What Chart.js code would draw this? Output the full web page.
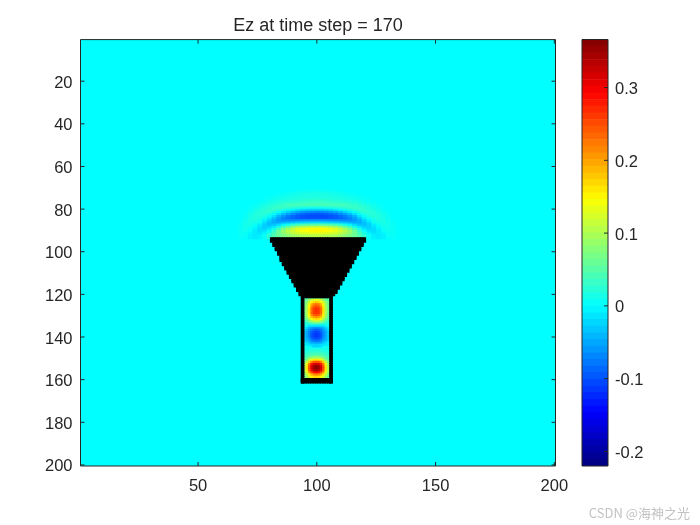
<!DOCTYPE html>
<html lang="en">
<head>
<meta charset="UTF-8">
<title>Ez at time step = 170</title>
<style>
    html, body { margin: 0; background: #fff; }
    #page { position: relative; width: 700px; height: 525px; overflow: hidden; }
    canvas { position: absolute; left: 0; top: 0; }
    #mark { position: absolute; right: 10px; top: 503px; font: 13px "Noto Sans CJK SC", sans-serif; color: #c2c2c2; }
</style>
</head>
<body>
<div id="page">
    <canvas id="field" width="700" height="525"></canvas>
    <canvas id="bar" width="700" height="525"></canvas>
    <div id="mark">CSDN @海神之光</div>
</div>

<script src="https://cdn.jsdelivr.net/npm/chart.js@4/dist/chart.umd.min.js"></script>
<script>
const titleText = 'Ez at time step = 170';
const xTicks = [50, 100, 150, 200];
const yTicks = [20, 40, 60, 80, 100, 120, 140, 160, 180, 200];
const barTicks = [-0.2, -0.1, 0, 0.1, 0.2, 0.3];
const valueMin = -0.22;
const valueMax = 0.366;

// wave above the horn
const waveCols = [68,70,72,74,76,78,80,82,84,86,88,90,92,94,96,98,100,102,104,106,108,110,112,114,116,118,120,122,124,126,128,130,132];
const waveRows = [72,73,74,75,76,77,78,79,80,81,82,83,84,85,86,87,88,89,90,91,92,93];
const waveValues = [
    [0,0,0,0,0,0,0,0,0,0,0,0,.002,.003,.004,.005,.005,.005,.004,.003,.002,0,0,0,0,0,0,0,0,0,0,0,0],
    [0,0,0,0,0,0,0,0,0,.002,.004,.006,.008,.01,.011,.012,.012,.012,.011,.01,.008,.006,.004,.002,0,0,0,0,0,0,0,0,0],
    [0,0,0,0,0,0,0,.002,.004,.006,.009,.011,.013,.014,.015,.015,.015,.015,.015,.014,.013,.011,.009,.006,.004,.002,0,0,0,0,0,0,0],
    [0,0,0,0,0,.001,.003,.005,.007,.009,.011,.013,.014,.015,.015,.016,.016,.016,.015,.015,.014,.013,.011,.009,.007,.005,.003,.001,0,0,0,0,0],
    [0,0,0,0,0,.003,.005,.008,.01,.012,.015,.017,.019,.02,.021,.022,.022,.022,.021,.02,.019,.017,.015,.012,.01,.008,.005,.003,0,0,0,0,0],
    [0,0,0,0,.002,.005,.008,.012,.015,.018,.02,.022,.024,.026,.028,.03,.03,.03,.028,.026,.024,.022,.02,.018,.015,.012,.008,.005,.002,0,0,0,0],
    [0,0,0,.002,.005,.009,.014,.018,.022,.026,.03,.032,.034,.035,.036,.037,.037,.037,.036,.035,.034,.032,.03,.026,.022,.018,.014,.009,.005,.002,0,0,0],
    [0,0,.001,.004,.008,.014,.02,.025,.03,.034,.038,.04,.04,.04,.04,.04,.04,.04,.04,.04,.04,.04,.038,.034,.03,.025,.02,.014,.008,.004,.001,0,0],
    [0,0,.003,.007,.012,.018,.024,.029,.031,.03,.027,.022,.018,.014,.012,.01,.01,.01,.012,.014,.018,.022,.027,.03,.031,.029,.024,.018,.012,.007,.003,0,0],
    [0,0,.004,.01,.016,.022,.027,.028,.024,.016,.006,-.004,-.012,-.02,-.024,-.027,-.028,-.027,-.024,-.02,-.012,-.004,.006,.016,.024,.028,.027,.022,.016,.01,.004,0,0],
    [0,.002,.007,.014,.02,.024,.024,.018,.004,-.012,-.026,-.04,-.052,-.06,-.066,-.07,-.072,-.07,-.066,-.06,-.052,-.04,-.026,-.012,.004,.018,.024,.024,.02,.014,.007,.002,0],
    [0,.003,.01,.017,.022,.022,.015,.002,-.018,-.038,-.055,-.068,-.08,-.088,-.093,-.096,-.098,-.096,-.093,-.088,-.08,-.068,-.055,-.038,-.018,.002,.015,.022,.022,.017,.01,.003,0],
    [0,.005,.012,.019,.02,.016,.003,-.018,-.042,-.06,-.075,-.085,-.095,-.1,-.103,-.105,-.105,-.105,-.103,-.1,-.095,-.085,-.075,-.06,-.042,-.018,.003,.016,.02,.019,.012,.005,0],
    [0,.006,.014,.018,.016,.006,-.01,-.034,-.056,-.072,-.082,-.09,-.095,-.098,-.1,-.1,-.1,-.1,-.1,-.098,-.095,-.09,-.082,-.072,-.056,-.034,-.01,.006,.016,.018,.014,.006,0],
    [.002,.008,.014,.016,.009,-.006,-.026,-.045,-.058,-.065,-.066,-.066,-.065,-.063,-.062,-.06,-.06,-.06,-.062,-.063,-.065,-.066,-.066,-.065,-.058,-.045,-.026,-.006,.009,.016,.014,.008,.002],
    [.003,.01,.014,.011,0,-.018,-.036,-.048,-.05,-.045,-.038,-.032,-.028,-.024,-.022,-.02,-.02,-.02,-.022,-.024,-.028,-.032,-.038,-.045,-.05,-.048,-.036,-.018,0,.011,.014,.01,.003],
    [.004,.01,.012,.005,-.01,-.026,-.036,-.035,-.022,-.005,.01,.025,.035,.042,.046,.05,.05,.05,.046,.042,.035,.025,.01,-.005,-.022,-.035,-.036,-.026,-.01,.005,.012,.01,.004],
    [.005,.01,.008,-.002,-.016,-.028,-.028,-.014,.01,.035,.055,.075,.09,.1,.105,.11,.11,.11,.105,.1,.09,.075,.055,.035,.01,-.014,-.028,-.028,-.016,-.002,.008,.01,.005],
    [.005,.009,.004,-.008,-.02,-.024,-.012,.012,.04,.068,.09,.11,.125,.135,.14,.145,.148,.145,.14,.135,.125,.11,.09,.068,.04,.012,-.012,-.024,-.02,-.008,.004,.009,.005],
    [.005,.007,0,-.012,-.02,-.015,.005,.03,.06,.085,.105,.12,.135,.14,.145,.15,.15,.15,.145,.14,.135,.12,.105,.085,.06,.03,.005,-.015,-.02,-.012,0,.007,.005],
    [.005,.004,-.004,-.012,-.015,-.006,.016,.04,.062,.08,.095,.108,.118,.124,.128,.13,.13,.13,.128,.124,.118,.108,.095,.08,.062,.04,.016,-.006,-.015,-.012,-.004,.004,.005],
    [.004,0,-.008,-.012,-.008,.005,.025,.045,.06,.07,.08,.09,.095,.1,.1,.105,.105,.105,.1,.1,.095,.09,.08,.07,.06,.045,.025,.005,-.008,-.012,-.008,0,.004]
];

// standing wave inside the tube
const tubeCols = [95,96,97,98,99,100,101,102,103,104,105];
const tubeRows = [122,123,124,125,126,127,128,129,130,131,132,133,134,135,136,137,138,139,140,141,142,143,144,145,146,147,148,149,150,151,152,153,154,155,156,157,158,159];
const tubeValues = [
    [.04,.05,.06,.07,.075,.08,.075,.07,.06,.05,.04],
    [.05,.06,.09,.12,.13,.135,.13,.12,.09,.06,.05],
    [.06,.08,.12,.15,.17,.18,.17,.15,.12,.08,.06],
    [.06,.09,.14,.19,.22,.225,.22,.19,.14,.09,.06],
    [.06,.095,.15,.21,.24,.25,.24,.21,.15,.095,.06],
    [.065,.1,.16,.23,.26,.265,.26,.23,.16,.1,.065],
    [.065,.1,.16,.23,.26,.27,.26,.23,.16,.1,.065],
    [.065,.1,.16,.23,.26,.265,.26,.23,.16,.1,.065],
    [.06,.095,.15,.21,.24,.245,.24,.21,.15,.095,.06],
    [.055,.085,.13,.18,.2,.21,.2,.18,.13,.085,.055],
    [.045,.065,.1,.14,.16,.165,.16,.14,.1,.065,.045],
    [.03,.045,.07,.09,.11,.11,.11,.09,.07,.045,.03],
    [.01,.02,.03,.04,.05,.05,.05,.04,.03,.02,.01],
    [0,0,-.01,-.01,-.01,-.01,-.01,-.01,-.01,0,0],
    [-.01,-.02,-.04,-.05,-.06,-.06,-.06,-.05,-.04,-.02,-.01],
    [-.025,-.04,-.06,-.08,-.09,-.095,-.09,-.08,-.06,-.04,-.025],
    [-.03,-.05,-.07,-.09,-.105,-.11,-.105,-.09,-.07,-.05,-.03],
    [-.03,-.05,-.07,-.1,-.11,-.115,-.11,-.1,-.07,-.05,-.03],
    [-.03,-.05,-.07,-.1,-.11,-.115,-.11,-.1,-.07,-.05,-.03],
    [-.03,-.045,-.06,-.09,-.1,-.105,-.1,-.09,-.06,-.045,-.03],
    [-.025,-.04,-.05,-.07,-.08,-.085,-.08,-.07,-.05,-.04,-.025],
    [-.01,-.02,-.03,-.05,-.05,-.055,-.05,-.05,-.03,-.02,-.01],
    [0,-.01,-.015,-.02,-.025,-.025,-.025,-.02,-.015,-.01,0],
    [.01,.01,.005,0,0,0,0,0,.005,.01,.01],
    [.01,.01,.01,.015,.015,.015,.015,.015,.01,.01,.01],
    [.015,.02,.02,.025,.025,.025,.025,.025,.02,.02,.015],
    [.02,.025,.03,.035,.035,.035,.035,.035,.03,.025,.02],
    [.03,.035,.04,.05,.055,.055,.055,.05,.04,.035,.03],
    [.04,.05,.07,.08,.09,.09,.09,.08,.07,.05,.04],
    [.05,.07,.11,.14,.155,.16,.155,.14,.11,.07,.05],
    [.07,.11,.17,.22,.245,.25,.245,.22,.17,.11,.07],
    [.09,.14,.22,.28,.31,.32,.31,.28,.22,.14,.09],
    [.1,.16,.24,.31,.345,.355,.345,.31,.24,.16,.1],
    [.1,.16,.25,.32,.35,.36,.35,.32,.25,.16,.1],
    [.1,.155,.24,.3,.335,.345,.335,.3,.24,.155,.1],
    [.09,.135,.2,.25,.28,.29,.28,.25,.2,.135,.09],
    [.07,.11,.15,.19,.21,.22,.21,.19,.15,.11,.07],
    [.06,.09,.12,.15,.165,.17,.165,.15,.12,.09,.06]
];

// black conductor cells
const hornRows = [94,95,96,97,98,99,100,101,102,103,104,105,106,107,108,109,110,111,112,113,114,115,116,117,118,119,120,121];
const hornLeft = [81,81,82,82,83,83,84,84,85,85,85,86,86,87,87,88,88,89,89,90,90,91,91,92,92,93,93,94];
const hornRight = [120,120,119,119,118,118,117,117,116,116,115,115,114,114,113,113,112,112,111,111,110,110,109,109,108,108,107,106];
const tubeWallRows = [122, 161];
const tubeWallCols = [94, 106];
const tubeFloorRows = [160, 161];

// MATLAB jet
function jet(t) {
    const c = v => Math.round(255 * Math.max(0, Math.min(1, v)));
    return 'rgb(' + c(1.5 - Math.abs(4 * t - 3)) + ',' + c(1.5 - Math.abs(4 * t - 2)) + ',' + c(1.5 - Math.abs(4 * t - 1)) + ')';
}
function colorOf(v) {
    return jet((v - valueMin) / (valueMax - valueMin));
}

function gridPoints(rows, cols, values) {
    var out = [];
    rows.forEach(function(r, i) {
        cols.forEach(function(c, j) {
            if (values[i][j] !== 0) out.push({x: c, y: r, v: values[i][j]});
        });
    });
    return out;
}

var wallPoints = [];
function addSpan(r, a, b) {
    for (var c = a; c <= b; c++) wallPoints.push({x: c, y: r});
}
hornRows.forEach(function(r, i) { addSpan(r, hornLeft[i], hornRight[i]); });
for (var r = tubeWallRows[0]; r <= tubeWallRows[1]; r++) {
    tubeWallCols.forEach(function(c) { addSpan(r, c, c); });
}
tubeFloorRows.forEach(function(r) { addSpan(r, tubeWallCols[0], tubeWallCols[1]); });

const inkColor = '#262626';
const font = {family: '"Liberation Sans", Arial, sans-serif', size: 16.5};

// cyan background (value 0) behind the cells
const zeroField = {
    id: 'zeroField',
    beforeDatasetsDraw(chart) {
        const a = chart.chartArea;
        chart.ctx.fillStyle = colorOf(0);
        chart.ctx.fillRect(a.left, a.top, a.width, a.height);
    }
};

// axes box with inward ticks on every side
const boxTicks = {
    id: 'boxTicks',
    afterDatasetsDraw(chart) {
        const ctx = chart.ctx, a = chart.chartArea, len = 4;
        const isField = chart.canvas.id === 'field';
        ctx.save();
        ctx.strokeStyle = inkColor;
        ctx.lineWidth = 1;
        ctx.beginPath();
        ctx.rect(a.left, a.top, a.width, a.height);
        if (isField) {
            xTicks.forEach(function(t) {
                const x = chart.scales.x.getPixelForValue(t);
                ctx.moveTo(x, a.bottom); ctx.lineTo(x, a.bottom - len);
                ctx.moveTo(x, a.top); ctx.lineTo(x, a.top + len);
            });
        }
        (isField ? yTicks : barTicks).forEach(function(t) {
            const y = chart.scales.y.getPixelForValue(t);
            if (isField) {
                ctx.moveTo(a.left, y); ctx.lineTo(a.left + len, y);
            }
            ctx.moveTo(a.right, y); ctx.lineTo(a.right - len, y);
        });
        ctx.stroke();
        ctx.restore();
    }
};

new Chart(document.getElementById('field'), {
    type: 'scatter',
    data: {
        datasets: [
            {
                data: wallPoints,
                order: 0,
                pointStyle: 'rect',
                pointRadius: 2.5,
                borderWidth: 0,
                backgroundColor: '#000'
            },
            {
                data: gridPoints(tubeRows, tubeCols, tubeValues),
                order: 1,
                pointStyle: 'rect',
                pointRadius: 2.5,
                borderWidth: 0,
                backgroundColor: ctx => colorOf(ctx.raw.v)
            },
            {
                data: gridPoints(waveRows, waveCols, waveValues),
                order: 2,
                pointStyle: 'rect',
                pointRadius: 3.6,
                borderWidth: 0,
                backgroundColor: ctx => colorOf(ctx.raw.v)
            }
        ]
    },
    options: {
        responsive: false,
        animation: false,
        events: [],
        layout: {padding: {top: 0, right: 144.5, bottom: 0, left: 0}},
        plugins: {
            legend: {display: false},
            tooltip: {enabled: false},
            title: {
                display: true,
                text: titleText,
                fullSize: false,
                color: inkColor,
                font: {family: font.family, size: 18, weight: 'normal'},
                padding: {top: 15, bottom: 3}
            }
        },
        scales: {
            x: {
                type: 'linear',
                min: 0.5,
                max: 200.5,
                grid: {display: false, drawTicks: false},
                border: {display: false},
                afterBuildTicks: s => { s.ticks = xTicks.map(v => ({value: v})); },
                afterFit: s => { s.height = 59; },
                ticks: {color: inkColor, font: font, padding: 11, maxRotation: 0, autoSkip: false}
            },
            y: {
                type: 'linear',
                reverse: true,
                min: 0.5,
                max: 200.5,
                grid: {display: false, drawTicks: false},
                border: {display: false},
                afterBuildTicks: s => { s.ticks = yTicks.map(v => ({value: v})); },
                afterFit: s => { s.width = 80.5; },
                ticks: {color: inkColor, font: font, padding: 8, labelOffset: 2, autoSkip: false}
            }
        }
    },
    plugins: [zeroField, boxTicks]
});

// colorbar: 64 levels of the map as floating bars
const levelCount = 64;
var levelSets = [];
for (var i = 0; i < levelCount; i++) {
    const lo = valueMin + (valueMax - valueMin) * i / levelCount;
    const hi = valueMin + (valueMax - valueMin) * (i + 1) / levelCount;
    levelSets.push({
        data: [[lo, hi]],
        grouped: false,
        barPercentage: 1,
        categoryPercentage: 1,
        borderWidth: 0,
        backgroundColor: jet((i + 0.5) / levelCount)
    });
}

new Chart(document.getElementById('bar'), {
    type: 'bar',
    data: {labels: ['Ez'], datasets: levelSets},
    options: {
        responsive: false,
        animation: false,
        events: [],
        layout: {padding: {top: 39.5, right: 0, bottom: 59, left: 582}},
        plugins: {legend: {display: false}, tooltip: {enabled: false}, title: {display: false}},
        scales: {
            x: {display: false},
            y: {
                position: 'right',
                min: valueMin,
                max: valueMax,
                grid: {display: false, drawTicks: false},
                border: {display: false},
                afterBuildTicks: s => { s.ticks = barTicks.map(v => ({value: v})); },
                afterFit: s => { s.width = 92; },
                ticks: {
                    color: inkColor,
                    font: font,
                    padding: 7,
                    labelOffset: 2,
                    autoSkip: false,
                    callback: v => String(Math.round(v * 10) / 10)
                }
            }
        }
    },
    plugins: [boxTicks]
});
</script>
</body>
</html>
